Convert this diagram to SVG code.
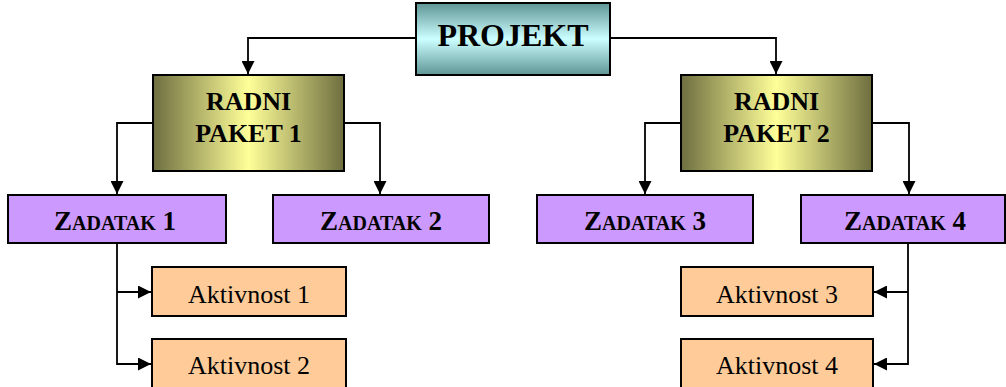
<svg xmlns="http://www.w3.org/2000/svg" width="1006" height="387" viewBox="0 0 1006 387">
<defs>
<linearGradient id="gProj" x1="0" y1="0" x2="0" y2="1">
<stop offset="0" stop-color="#5f9595"/>
<stop offset="0.5" stop-color="#ccffff"/>
<stop offset="1" stop-color="#5f9595"/>
</linearGradient>
<linearGradient id="gPak" x1="0" y1="0" x2="1" y2="0">
<stop offset="0" stop-color="#6e6e40"/>
<stop offset="0.5" stop-color="#ffff99"/>
<stop offset="1" stop-color="#6e6e40"/>
</linearGradient>
<marker id="arr" viewBox="0 0 10 10" refX="10" refY="5" markerWidth="13" markerHeight="13" markerUnits="userSpaceOnUse" orient="auto">
<path d="M0,0 L10,5 L0,10 Z" fill="#000"/>
</marker>
<style>
.b{stroke:#000;stroke-width:2}
.zad{fill:#cc99ff}
.akt{fill:#ffcc99}
.t{font-family:"Liberation Serif","Times New Roman",serif;fill:#000;text-anchor:middle}
.bold{font-weight:bold}
.c{fill:none;stroke:#000;stroke-width:1.8}
</style>
</defs>
<g id="connectors">
<path class="c" d="M416,38 H248 V74" marker-end="url(#arr)"/>
<path class="c" d="M610,38 H776 V74" marker-end="url(#arr)"/>
<path class="c" d="M153,123 H117 V194" marker-end="url(#arr)"/>
<path class="c" d="M344,123 H380 V194" marker-end="url(#arr)"/>
<path class="c" d="M681,123 H645 V194" marker-end="url(#arr)"/>
<path class="c" d="M872,123 H909 V194" marker-end="url(#arr)"/>
<path class="c" d="M117,243 V364 H151" marker-end="url(#arr)"/>
<path class="c" d="M117,292 H151" marker-end="url(#arr)"/>
<path class="c" d="M908,243 V364 H874" marker-end="url(#arr)"/>
<path class="c" d="M908,292 H874" marker-end="url(#arr)"/>
</g>
<g id="projekt">
<rect class="b" x="416" y="3" width="194" height="72" fill="url(#gProj)"/>
<text class="t bold" x="513" y="46" font-size="32">PROJEKT</text>
</g>
<g id="paket1">
<rect class="b" x="153" y="75" width="191" height="96" fill="url(#gPak)"/>
<text class="t bold" x="248.5" y="110" font-size="26">RADNI</text>
<text class="t bold" x="248.5" y="142" font-size="26">PAKET 1</text>
</g>
<g id="paket2">
<rect class="b" x="681" y="75" width="191" height="96" fill="url(#gPak)"/>
<text class="t bold" x="776.5" y="110" font-size="26">RADNI</text>
<text class="t bold" x="776.5" y="142" font-size="26">PAKET 2</text>
</g>
<g id="zadatak1">
<rect class="b zad" x="8" y="195" width="218" height="48"/>
<text class="t bold" x="115" y="230" font-size="27">Z<tspan font-size="20">ADATAK</tspan> 1</text>
</g>
<g id="zadatak2">
<rect class="b zad" x="273" y="195" width="216" height="48"/>
<text class="t bold" x="381" y="230" font-size="27">Z<tspan font-size="20">ADATAK</tspan> 2</text>
</g>
<g id="zadatak3">
<rect class="b zad" x="537" y="195" width="216" height="48"/>
<text class="t bold" x="645" y="230" font-size="27">Z<tspan font-size="20">ADATAK</tspan> 3</text>
</g>
<g id="zadatak4">
<rect class="b zad" x="801" y="195" width="204" height="48"/>
<text class="t bold" x="905" y="230" font-size="27">Z<tspan font-size="20">ADATAK</tspan> 4</text>
</g>
<g id="aktivnost1">
<rect class="b akt" x="152" y="267" width="194" height="49"/>
<text class="t" x="249" y="303" font-size="26">Aktivnost 1</text>
</g>
<g id="aktivnost2">
<rect class="b akt" x="152" y="339" width="194" height="49"/>
<text class="t" x="249" y="374" font-size="26">Aktivnost 2</text>
</g>
<g id="aktivnost3">
<rect class="b akt" x="681" y="267" width="192" height="49"/>
<text class="t" x="777" y="303" font-size="26">Aktivnost 3</text>
</g>
<g id="aktivnost4">
<rect class="b akt" x="681" y="339" width="192" height="49"/>
<text class="t" x="777" y="374" font-size="26">Aktivnost 4</text>
</g>
</svg>
